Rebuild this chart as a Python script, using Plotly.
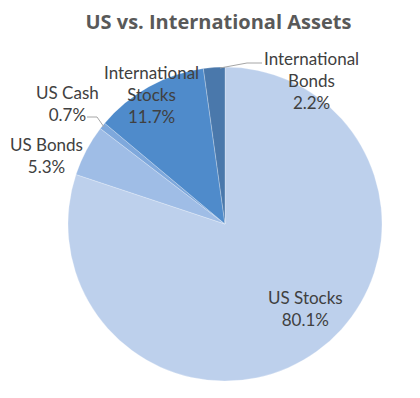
import plotly.graph_objects as go

labels = ["US Stocks", "US Bonds", "US Cash", "International<br>Stocks", "International<br>Bonds"]
values = [80.1, 5.3, 0.7, 11.7, 2.2]
colors = ["#bdd0ec", "#9fbde6", "#7ea8dc", "#4f8bcb", "#4a78ab"]

W, H = 420, 398
# label centres (pixels from top-left) for each slice
label_px = [(305, 308), (46, 155), (67, 103), (151, 95), (311, 81)]

fig = go.Figure(go.Pie(
    labels=labels, values=values, sort=False, direction="clockwise", rotation=0,
    marker=dict(colors=colors, line=dict(color="rgba(255,255,255,0.5)", width=0.5)),
    textinfo="none", hoverinfo="label+percent",
    domain=dict(x=[0.1619, 0.9095], y=[0.0427, 0.8317]),
    showlegend=False,
))

total = sum(values)
for (px, py), lab, v in zip(label_px, labels, values):
    fig.add_annotation(
        x=px / W, y=1 - py / H, xref="paper", yref="paper", showarrow=False,
        xanchor="center", yanchor="middle",
        text=f"{lab}<br>{v / total * 100:.1f}%",
        font=dict(family="Lato, Open Sans, sans-serif", size=17, color="#404040"),
        align="center",
    )

# leader lines (pixel points)
leaders = [
    [(87, 117), (97, 117), (104, 127)],
    [(262, 63), (247, 63), (220, 68)],
]
for pts in leaders:
    for (x0, y0), (x1, y1) in zip(pts[:-1], pts[1:]):
        fig.add_shape(type="line", xref="paper", yref="paper",
                      x0=x0 / W, y0=1 - y0 / H, x1=x1 / W, y1=1 - y1 / H,
                      line=dict(color="#a6a6a6", width=1))

fig.update_layout(
    width=W, height=H, margin=dict(l=0, r=0, t=0, b=0),
    paper_bgcolor="white", plot_bgcolor="white",
    title=dict(text="<b>US vs. International Assets</b>", x=0.52, xanchor="center",
               y=0.945, yanchor="middle",
               font=dict(family="Open Sans, Lato, sans-serif", size=20, color="#595959")),
)

fig.write_html("out.html")
